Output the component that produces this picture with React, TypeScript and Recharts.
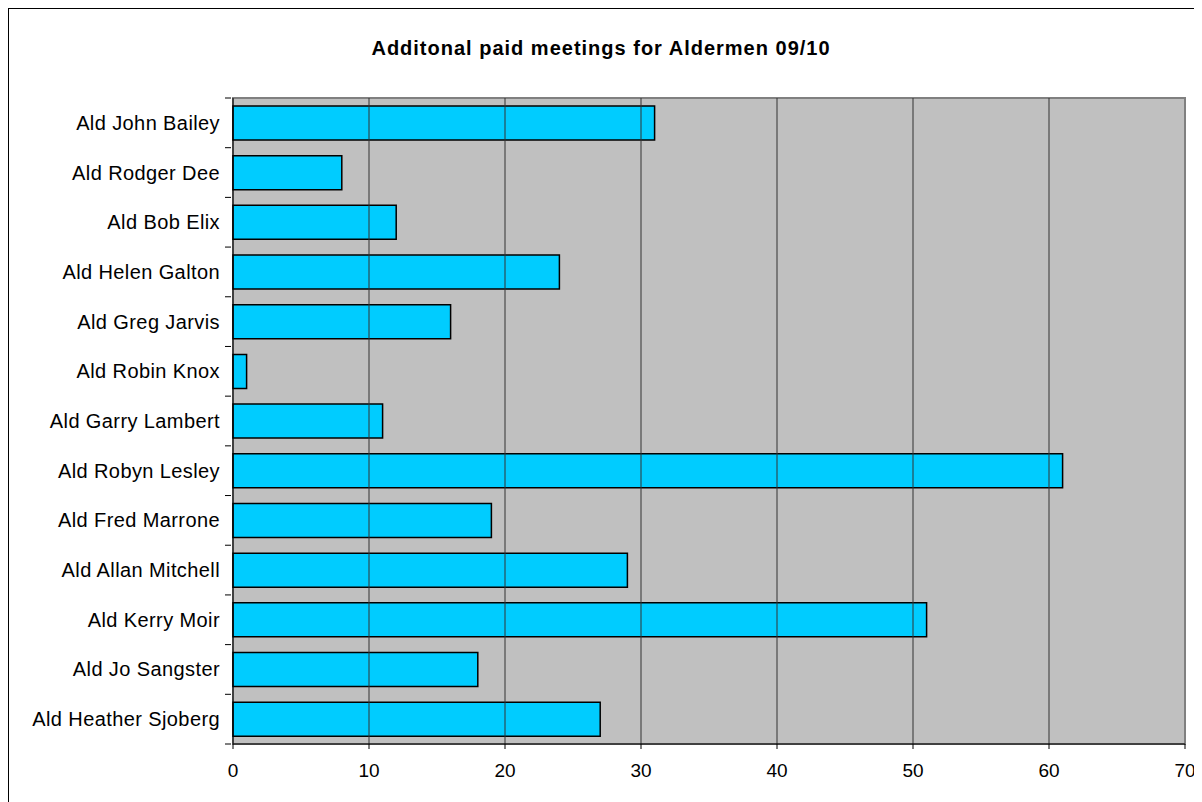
import { BarChart, Bar, XAxis, YAxis, ReferenceLine, ReferenceArea } from 'recharts';

const aldermen = [
  'Ald John Bailey',
  'Ald Rodger Dee',
  'Ald Bob Elix',
  'Ald Helen Galton',
  'Ald Greg Jarvis',
  'Ald Robin Knox',
  'Ald Garry Lambert',
  'Ald Robyn Lesley',
  'Ald Fred Marrone',
  'Ald Allan Mitchell',
  'Ald Kerry Moir',
  'Ald Jo Sangster',
  'Ald Heather Sjoberg',
];
const meetings = [31, 8, 12, 24, 16, 1, 11, 61, 19, 29, 51, 18, 27];
const xTicks = [0, 10, 20, 30, 40, 50, 60, 70];

const FONT = 'Arial, "Liberation Sans", Helvetica, sans-serif';
const W = 1194;
const H = 794;
const TOP = 90;
const BOTTOM = 58;
const XAXIS_H = 30;
const BAND = (H - TOP - BOTTOM) / aldermen.length;

function NameTick(props: any) {
  const { x, y, payload, index } = props;
  const axisX = x + 6;
  return (
    <g>
      <line x1={axisX - 6} x2={axisX} y1={y - BAND / 2} y2={y - BAND / 2} stroke="#000" />
      {index === aldermen.length - 1 && (
        <line x1={axisX - 6} x2={axisX} y1={y + BAND / 2} y2={y + BAND / 2} stroke="#000" />
      )}
      <text
        x={x - 5}
        y={y}
        dy="0.35em"
        textAnchor="end"
        fontSize={20}
        letterSpacing={0.4}
        fill="#000"
        fontFamily={FONT}
      >
        {payload.value}
      </text>
    </g>
  );
}

export default function App() {
  const data = aldermen.map((name, i) => ({ name, value: meetings[i] }));

  return (
    <div
      style={{
        position: 'relative',
        width: W,
        height: H,
        borderLeft: '1px solid #000',
        borderTop: '1px solid #000',
        boxSizing: 'border-box',
        background: '#fff',
        fontFamily: FONT,
      }}
    >
      <div
        style={{
          position: 'absolute',
          left: 0,
          width: 1184,
          top: 28,
          textAlign: 'center',
          fontSize: 20,
          letterSpacing: 1,
          fontWeight: 'bold',
          color: '#000',
        }}
      >
        Additonal paid meetings for Aldermen 09/10
      </div>
      <BarChart
        width={W - 1}
        height={H - 1}
        data={data}
        layout="vertical"
        margin={{ top: TOP - 1, right: 17, bottom: BOTTOM - XAXIS_H, left: 0 }}
        barCategoryGap="16%"
      >
        <ReferenceArea x1={0} x2={70} fill="#C0C0C0" fillOpacity={1} stroke="#808080" strokeWidth={2} />
        {xTicks.slice(1, -1).map((t) => (
          <ReferenceLine key={t} x={t} stroke="#333" strokeWidth={1} />
        ))}
        <XAxis
          type="number"
          domain={[0, 70]}
          ticks={xTicks}
          tick={{ fontSize: 19, fill: '#000', fontFamily: FONT }}
          tickSize={5}
          tickMargin={15}
          axisLine={{ stroke: '#000' }}
          tickLine={{ stroke: '#000' }}
          height={XAXIS_H}
        />
        <YAxis
          type="category"
          dataKey="name"
          width={224}
          tick={<NameTick />}
          tickLine={false}
          axisLine={{ stroke: '#000' }}
          interval={0}
        />
        <Bar dataKey="value" fill="#00CCFF" stroke="#000" strokeWidth={1.5} isAnimationActive={false} />
      </BarChart>
    </div>
  );
}
